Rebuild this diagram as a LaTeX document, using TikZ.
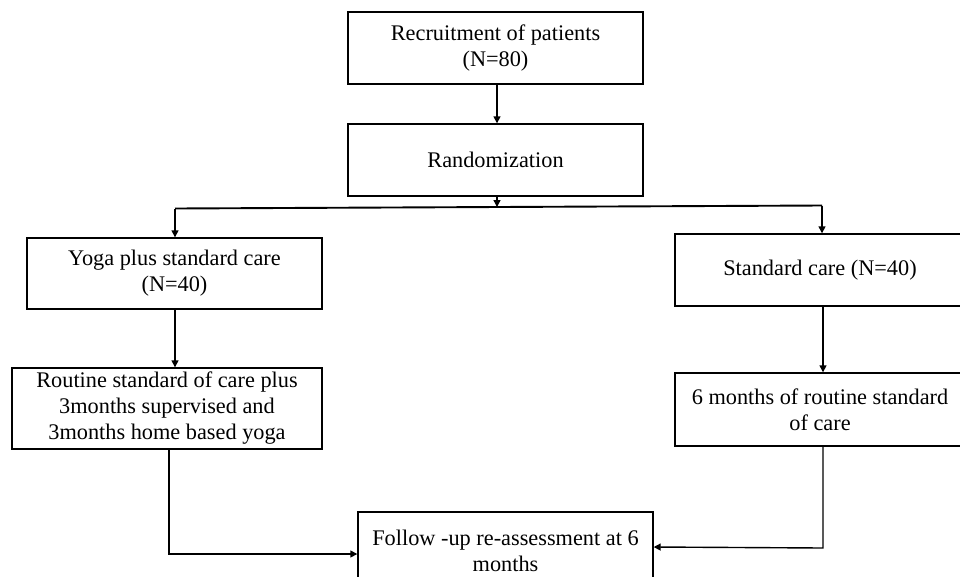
\documentclass[tikz,border=0pt]{standalone}
\usepackage{fontspec}
\setmainfont{Liberation Serif}
\usetikzlibrary{arrows.meta}
\begin{document}
\begin{tikzpicture}[x=1pt,y=-1pt,
  box/.style={draw=black, line width=1.4pt, align=center, inner sep=0pt,
    font=\fontsize{22.3}{26}\selectfont},
  conn/.style={line width=1.4pt, draw=black},
  arr/.style={conn, -{Triangle[length=7pt,width=7pt]}}]
\path[use as bounding box, clip] (0,0) rectangle (960,576);
\fill[white] (0,0) rectangle (960,576);

\node[box, minimum width=295pt, minimum height=72pt] (rec) at (495.5,48) {Recruitment of patients\\(N=80)};
\node[box, minimum width=295pt, minimum height=72pt] (rand) at (495.5,160) {Randomization};
\node[box, minimum width=295pt, minimum height=71pt] (yoga) at (174.5,273.5) {Yoga plus standard care\\(N=40)};
\node[box, minimum width=310pt, minimum height=81pt] (rout) at (167,408.5) {Routine standard of care plus\\3months supervised and\\3months home based yoga};
\node[box, minimum width=290pt, minimum height=72pt] (sc) at (820,270) {Standard care (N=40)};
\node[box, minimum width=290pt, minimum height=73pt] (six) at (820,409.5) {6 months of routine standard\\of care};
\node[box, minimum width=295pt, minimum height=78pt] (fol) at (505.5,551) {Follow -up re-assessment at 6\\months};

\coordinate (br) at (497,207);
\coordinate (bl) at (175,208.5);
\coordinate (brr) at (822,205.5);
\coordinate (lc) at (169,554);
\coordinate (rc) at (823,548);

\draw[arr] (rec.south -| br) -- (rand.north -| br);
\draw[arr] (rand.south -| br) -- (br);
\draw[line width=1.9pt] (bl) -- (brr);
\draw[arr] (bl) -- (yoga.north -| bl);
\draw[arr] (brr) -- (sc.north -| brr);
\draw[arr] (yoga.south -| bl) -- (rout.north -| bl);
\draw[arr] (sc.south -| rc) -- (six.north -| rc);
\draw[arr] (rout.south -| lc) -- (lc) -- (fol.west |- lc);
\draw[arr] (six.south -| rc) -- (rc) -- ([yshift=1pt]fol.east |- rc);
\end{tikzpicture}
\end{document}
